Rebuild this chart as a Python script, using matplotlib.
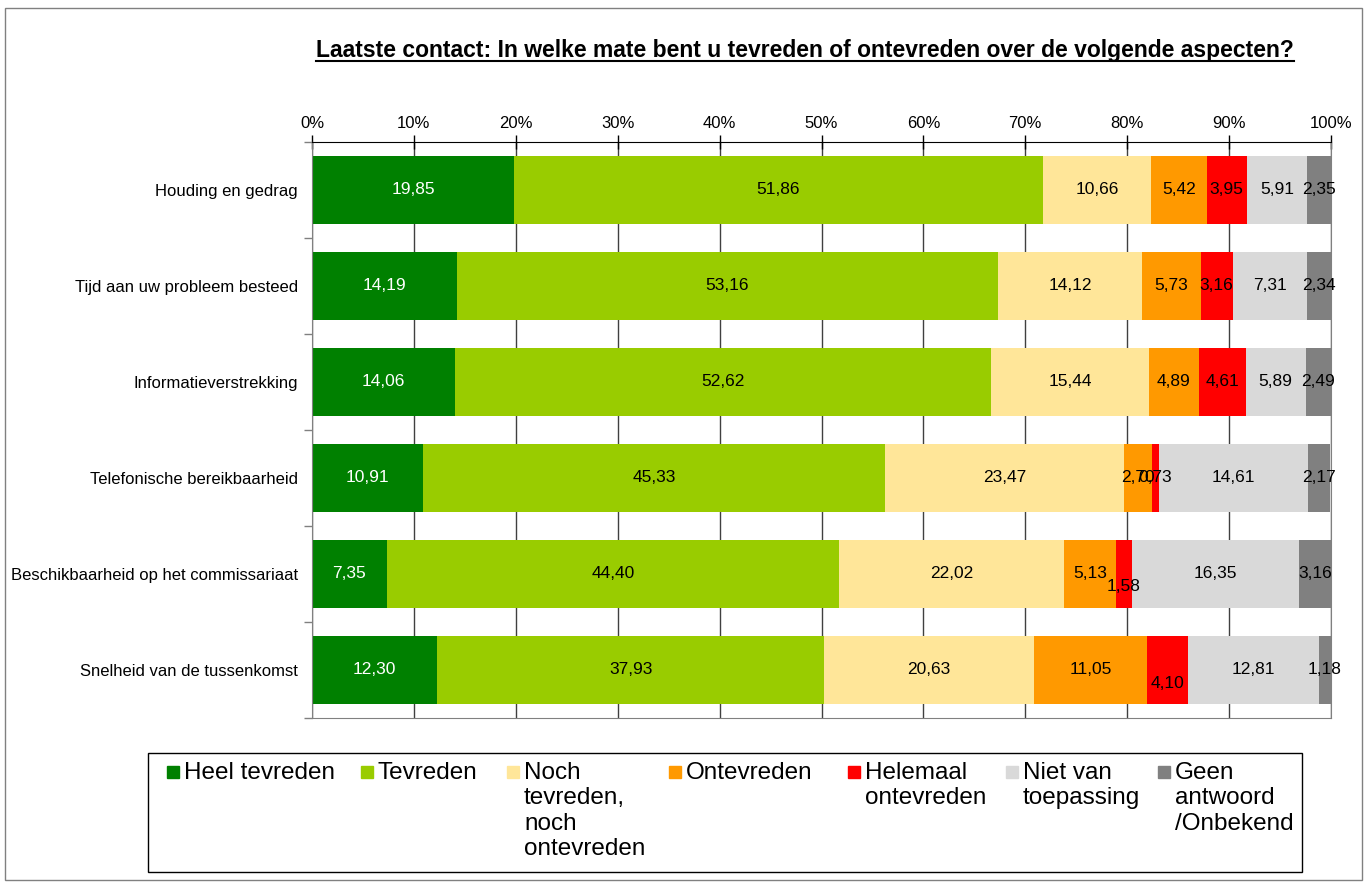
"""Stacked horizontal bar chart: tevredenheid over het laatste contact."""

import numpy as np
import matplotlib.pyplot as plt
from matplotlib.patches import Rectangle
from matplotlib.lines import Line2D

plt.rcParams['font.family'] = ['Liberation Sans', 'DejaVu Sans']

# Data
categories = [
    'Houding en gedrag',
    'Tijd aan uw probleem besteed',
    'Informatieverstrekking',
    'Telefonische bereikbaarheid',
    'Beschikbaarheid op het commissariaat',
    'Snelheid van de tussenkomst',
]
series_names = [
    'Heel tevreden',
    'Tevreden',
    'Noch\ntevreden,\nnoch\nontevreden',
    'Ontevreden',
    'Helemaal\nontevreden',
    'Niet van\ntoepassing',
    'Geen\nantwoord\n/Onbekend',
]
heel_tevreden = [19.85, 14.19, 14.06, 10.91, 7.35, 12.30]
tevreden = [51.86, 53.16, 52.62, 45.33, 44.40, 37.93]
noch = [10.66, 14.12, 15.44, 23.47, 22.02, 20.63]
ontevreden = [5.42, 5.73, 4.89, 2.70, 5.13, 11.05]
helemaal_ontevreden = [3.95, 3.16, 4.61, 0.73, 1.58, 4.10]
niet_van_toepassing = [5.91, 7.31, 5.89, 14.61, 16.35, 12.81]
geen_antwoord = [2.35, 2.34, 2.49, 2.17, 3.16, 1.18]
x_ticklabels = ['0%', '10%', '20%', '30%', '40%', '50%', '60%', '70%', '80%', '90%', '100%']

series = [heel_tevreden, tevreden, noch, ontevreden,
          helemaal_ontevreden, niet_van_toepassing, geen_antwoord]
colors = ['#008000', '#99CC00', '#FFE699', '#FF9900', '#FF0000', '#D9D9D9', '#808080']
label_colors = ['white', 'black', 'black', 'black', 'black', 'black', 'black']
# a few labels sit lower in the original (row, series) -> offset in points
label_dy = {(4, 4): -9, (5, 4): -10}

W, H = 1367, 886
fig = plt.figure(figsize=(W / 100, H / 100), dpi=100)


def fx(px):
    return px / W


def fy(py):
    return 1 - py / H


ax = fig.add_axes([fx(312), fy(718), fx(1331) - fx(312), fy(142) - fy(718)])

y = np.arange(len(categories))
left = np.zeros(len(categories))
for i, vals in enumerate(series):
    vals = np.array(vals)
    bars = ax.barh(y, vals, left=left, height=0.71, color=colors[i],
                   edgecolor='none', zorder=2)
    for j, (b, v) in enumerate(zip(bars, vals)):
        cx = b.get_x() + b.get_width() / 2
        ax.annotate(f'{v:.2f}'.replace('.', ','), (cx, y[j]),
                    xytext=(0, label_dy.get((j, i), 0)), textcoords='offset points',
                    ha='center', va='center', fontsize=12.5,
                    color=label_colors[i], zorder=3)
    left += vals

ax.set_xlim(0, 100)
ax.set_ylim(len(categories) - 0.5, -0.5)

ax.xaxis.tick_top()
ax.set_xticks(np.arange(0, 101, 10))
ax.set_xticklabels(x_ticklabels, fontsize=12)
ax.tick_params(axis='x', which='major', direction='inout', length=10, width=1,
               color='black', pad=3)
ax.grid(axis='x', color='#404040', linewidth=1, zorder=0)
ax.set_axisbelow(True)

ax.set_yticks(y)
ax.set_yticklabels(categories, fontsize=12)
ax.tick_params(axis='y', which='major', length=0, pad=10)
ax.set_yticks(np.arange(-0.5, len(categories) + 0.5, 1), minor=True)
ax.tick_params(axis='y', which='minor', length=6, width=1, color='#808080', direction='out')

ax.spines['top'].set_color('black')
for s in ['left', 'right', 'bottom']:
    ax.spines[s].set_color('#808080')

# Outer frame
fig.patches.append(Rectangle((fx(5), fy(880)), fx(1362) - fx(5), fy(8) - fy(880),
                             transform=fig.transFigure, fill=False,
                             edgecolor='#808080', linewidth=1))

# Title, underlined
title = fig.text(fx(805), fy(57), 'Laatste contact: In welke mate bent u tevreden of '
                 'ontevreden over de volgende aspecten?',
                 ha='center', va='baseline', fontsize=16.5, fontweight='bold')
fig.canvas.draw()
bb = title.get_window_extent()
fig.add_artist(Line2D([bb.x0 / W, bb.x1 / W], [fy(61), fy(61)],
                      transform=fig.transFigure, color='black', linewidth=1.5))

# Legend, drawn as a framed box with entries at the top
fig.patches.append(Rectangle((fx(148), fy(872)), fx(1302) - fx(148), fy(753) - fy(872),
                             transform=fig.transFigure, fill=False,
                             edgecolor='black', linewidth=1))
leg_x = [167, 361, 507, 669, 848, 1006, 1158]
for name, c, px in zip(series_names, colors, leg_x):
    fig.patches.append(Rectangle((fx(px), fy(778)), fx(12), 12 / H,
                                 transform=fig.transFigure, color=c))
    fig.text(fx(px + 17), fy(762), name, ha='left', va='top', fontsize=17.5,
             linespacing=1.2)

fig.savefig('out.png', dpi=100)
